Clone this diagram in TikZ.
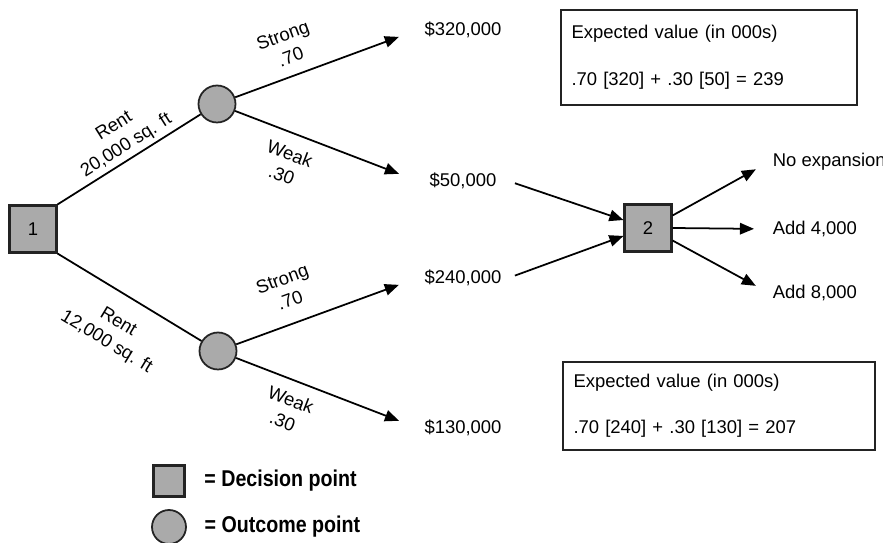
\documentclass[tikz,border=0pt]{standalone}
\usepackage{fontspec}
\setmainfont{Liberation Sans}
\newfontfamily\legendfont{Liberation Sans}[FakeStretch=0.86]
\usetikzlibrary{arrows.meta,positioning}
\definecolor{NodeGray}{RGB}{170,170,170}
\definecolor{EdgeGray}{RGB}{35,35,35}
\tikzset{
  decision/.style={draw=EdgeGray,fill=NodeGray,line width=1.2pt,
    minimum size=0.94cm,inner sep=0pt},
  outcome/.style={circle,draw=EdgeGray,fill=NodeGray,line width=1pt,
    minimum size=0.74cm,inner sep=0pt},
  payoff/.style={minimum width=1.8cm,inner sep=2pt},
  choice/.style={anchor=west,inner sep=2pt},
  branch/.style={align=center,inner sep=2pt,
    font=\fontsize{10.5}{13}\selectfont},
  evbox/.style={draw=EdgeGray,line width=0.7pt,align=left,
    inner xsep=0.21cm,inner ysep=0pt},
  keytext/.style={inner sep=2pt,
    font={\legendfont\bfseries\fontsize{13}{15}\selectfont}},
  link/.style={line width=1pt},
  arrow/.style={-{Triangle[length=8pt,width=6.5pt]},line width=1pt}
}

\begin{document}
\begin{tikzpicture}[x=0.02cm,y=-0.02cm,font=\fontsize{10.5}{12.6}\selectfont]
  \useasboundingbox (0,0) rectangle (883,543);

  % decision and outcome points
  \node[decision] (d1) at (33,229) {1};
  \node[outcome] (o1) at (217,104) {};
  \node[outcome] (o2) at (218,351) {};
  \node[decision] (d2) at (648,228) {2};

  % payoffs
  \node[payoff] (v1) at (463,30) {\$320,000};
  \node[payoff] (v2) at (463,181) {\$50,000};
  \node[payoff] (v3) at (463,278) {\$240,000};
  \node[payoff] (v4) at (463,428) {\$130,000};

  % second decision
  \node[choice] (c1) at (769,162) {No expansion};
  \node[choice] (c2) at (769,229) {Add 4,000};
  \node[choice] (c3) at (769,293) {Add 8,000};

  % branches
  \draw[link] (d1.north east) -- node[branch,sloped,above,pos=0.53]
    {Rent\\20,000 sq. ft} (o1);
  \draw[link] (d1.south east) -- node[branch,sloped,below=0.3cm,pos=0.52]
    {Rent\\12,000 sq. ft} (o2);
  \draw[arrow,shorten >=0.4cm] (o1) -- node[branch,sloped,above=0.16cm,pos=0.34]
    {Strong\\.70} (v1.west);
  \draw[arrow,shorten >=0.4cm] (o1) -- node[branch,sloped,below=0.18cm,pos=0.34]
    {Weak\\.30} (v2.west);
  \draw[arrow,shorten >=0.4cm] (o2) -- node[branch,sloped,above=0.24cm,pos=0.34]
    {Strong\\.70} (v3.west);
  \draw[arrow,shorten >=0.4cm] (o2) -- node[branch,sloped,below=0.16cm,pos=0.34]
    {Weak\\.30} (v4.west);
  \draw[arrow,shorten <=0.14cm] (v2.east) -- (d2.162);
  \draw[arrow,shorten <=0.14cm] (v3.east) -- (d2.198);
  \draw[arrow,shorten >=0.3cm] (d2.27) -- (c1.west);
  \draw[arrow,shorten >=0.3cm] (d2.east) -- (c2.west);
  \draw[arrow,shorten >=0.3cm] (d2.-27) -- (c3.west);

  % expected values
  \node[evbox,minimum width=5.92cm,minimum height=1.9cm,text width=5.5cm]
    (ev1) at (709,57.5)
    {Expected value (in 000s)\\[14pt].70 [320] + .30 [50] = 239};
  \node[evbox,minimum width=6.24cm,minimum height=1.76cm,text width=5.82cm]
    (ev2) at (719,406)
    {Expected value (in 000s)\\[13.5pt].70 [240] + .30 [130] = 207};

  % key
  \node[decision,minimum size=0.62cm] (kd) at (169,481) {};
  \node[outcome,minimum size=0.68cm] (ko) at (169,527) {};
  \node[keytext,right=0.3cm of kd] (kdt) {= Decision point};
  \node[keytext,right=0.28cm of ko] (kot) {= Outcome point};
\end{tikzpicture}
\end{document}
